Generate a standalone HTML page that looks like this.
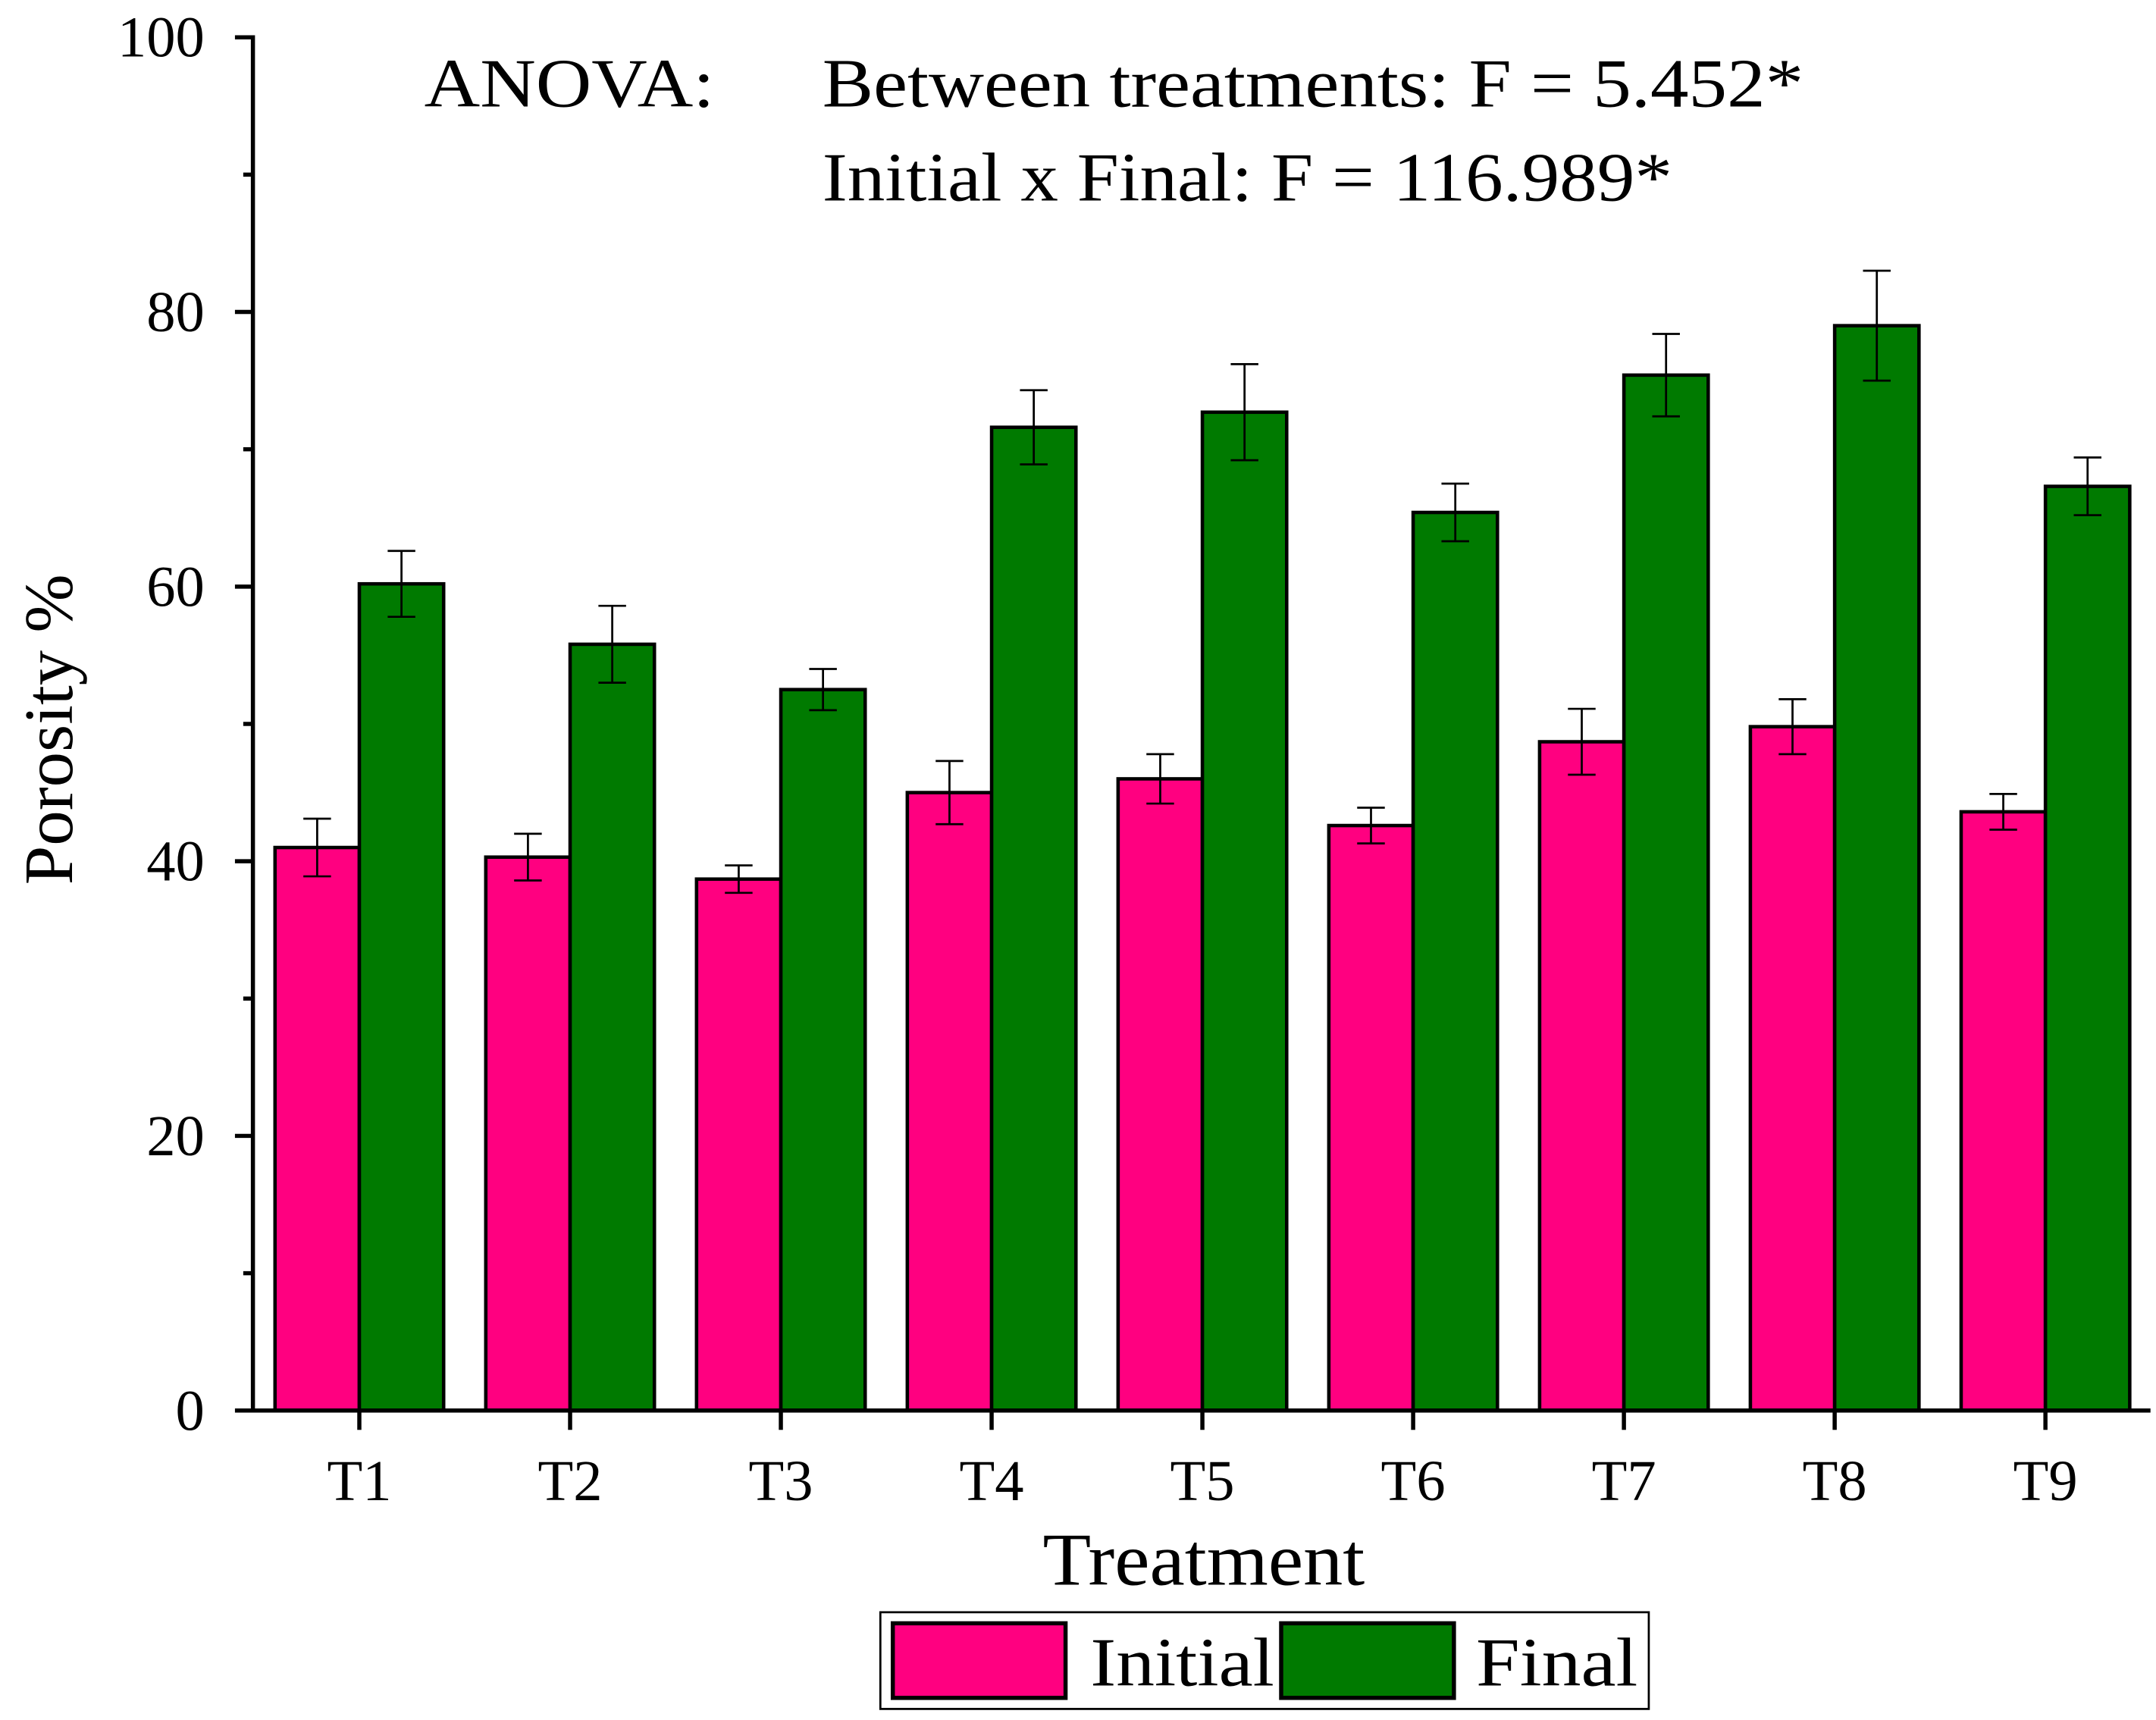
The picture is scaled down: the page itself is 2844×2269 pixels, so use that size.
<!DOCTYPE html>
<html><head><meta charset="utf-8"><style>
html,body{margin:0;padding:0;background:#fff;}
svg{display:block;}
text{font-family:"Liberation Serif",serif;fill:#000;}
</style></head><body>
<svg id="chart" width="2844" height="2269" viewBox="0 0 1560 1245" preserveAspectRatio="none" xmlns="http://www.w3.org/2000/svg">
<g id="bars"></g>
<g id="axes"></g>
<text x="307" y="77" font-size="50" textLength="210" lengthAdjust="spacingAndGlyphs">ANOVA:</text>
<text x="595" y="77" font-size="50" textLength="710" lengthAdjust="spacingAndGlyphs">Between treatments:  F = 5.452*</text>
<text x="595" y="145" font-size="50" textLength="615" lengthAdjust="spacingAndGlyphs">Initial x Final:  F = 116.989*</text>
<text x="871" y="1147" font-size="54" text-anchor="middle" textLength="233" lengthAdjust="spacingAndGlyphs">Treatment</text>
<text transform="translate(52,528) rotate(-90)" font-size="50" text-anchor="middle" textLength="225" lengthAdjust="spacingAndGlyphs">Porosity %</text>
<g>
<rect x="637" y="1167" width="556" height="70" fill="#fff" stroke="#000" stroke-width="1.5"/>
<rect x="646" y="1175" width="125" height="54" fill="#FF0080" stroke="#000" stroke-width="3"/>
<text x="789" y="1220" font-size="50" textLength="133" lengthAdjust="spacingAndGlyphs">Initial</text>
<rect x="927" y="1175" width="125" height="54" fill="#007A00" stroke="#000" stroke-width="3"/>
<text x="1068" y="1220" font-size="50" textLength="117" lengthAdjust="spacingAndGlyphs">Final</text>
</g>
</svg>
<script>
const categories = ["T1","T2","T3","T4","T5","T6","T7","T8","T9"];
const initialValues = [41.0, 40.3, 38.7, 45.0, 46.0, 42.6, 48.7, 49.8, 43.6];
const initialErrors = [2.1, 1.7, 1.0, 2.3, 1.8, 1.3, 2.4, 2.0, 1.3];
const finalValues = [60.2, 55.8, 52.5, 71.6, 72.7, 65.4, 75.4, 79.0, 67.3];
const finalErrors = [2.4, 2.8, 1.5, 2.7, 3.5, 2.1, 3.0, 4.0, 2.1];
const yTicks = [0, 20, 40, 60, 80, 100];
const yMinorTicks = [10, 30, 50, 70, 90];

const NS = "http://www.w3.org/2000/svg";
const X0 = 183, X1 = 1556, Y0 = 1021, Y1 = 27;
const yScale = v => Y0 - (v / 100) * (Y0 - Y1);
const xCenter = i => 260 + i * 152.5;
const barW = 61;
function mk(tag, attrs, parent) {
  const e = document.createElementNS(NS, tag);
  for (const k in attrs) e.setAttribute(k, attrs[k]);
  parent.appendChild(e);
  return e;
}
const bars = document.getElementById('bars');
const axes = document.getElementById('axes');

function drawSeries(vals, errs, offset, color, name) {
  vals.forEach((v, i) => {
    const x = xCenter(i) + offset;
    const r = mk('rect', {x: x, y: yScale(v), width: barW, height: Y0 - yScale(v), fill: color, stroke: '#000', 'stroke-width': 2.5}, bars);
    
    
    const cx = x + barW / 2;
    const g = mk('g', {stroke: '#000', 'stroke-width': 1.5}, bars);
    
    
    mk('line', {x1: cx, x2: cx, y1: yScale(v + errs[i]), y2: yScale(v - errs[i])}, g);
    mk('line', {x1: cx - 10, x2: cx + 10, y1: yScale(v + errs[i]), y2: yScale(v + errs[i])}, g);
    mk('line', {x1: cx - 10, x2: cx + 10, y1: yScale(v - errs[i]), y2: yScale(v - errs[i])}, g);
  });
}
drawSeries(initialValues, initialErrors, -barW, '#FF0080', 'initial');
drawSeries(finalValues, finalErrors, 0, '#007A00', 'final');

const yAxis = mk('line', {x1: X0, x2: X0, y1: Y1 - 1.5, y2: Y0 + 1.5, stroke: '#000', 'stroke-width': 3}, axes);


const xAxis = mk('line', {x1: X0 - 1.5, x2: X1, y1: Y0, y2: Y0, stroke: '#000', 'stroke-width': 3}, axes);


yTicks.forEach(t => {
  const l = mk('line', {x1: X0 - 13, x2: X0, y1: yScale(t), y2: yScale(t), stroke: '#000', 'stroke-width': 3}, axes);
  
  
  const tx = mk('text', {x: 148, y: yScale(t) + 14, 'font-size': 42, 'text-anchor': 'end'}, axes);
  tx.textContent = t;
  
  
});
yMinorTicks.forEach(t => {
  const l = mk('line', {x1: X0 - 7, x2: X0, y1: yScale(t), y2: yScale(t), stroke: '#000', 'stroke-width': 3}, axes);
  
  
});
categories.forEach((c, i) => {
  const l = mk('line', {x1: xCenter(i), x2: xCenter(i), y1: Y0, y2: Y0 + 14, stroke: '#000', 'stroke-width': 3}, axes);
  
  
  const tx = mk('text', {x: xCenter(i), y: 1086, 'font-size': 42, 'text-anchor': 'middle'}, axes);
  tx.textContent = c;
  
  
});
</script>
</body></html>
